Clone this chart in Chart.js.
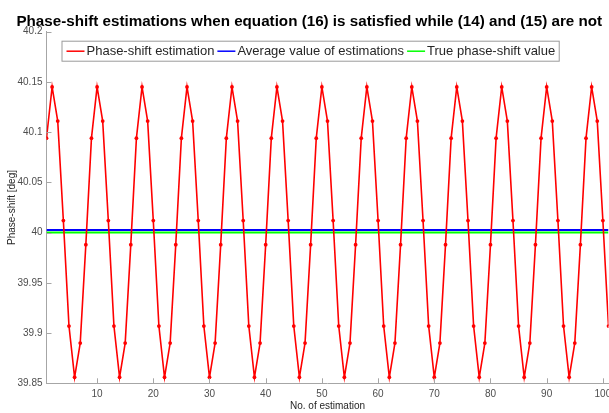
<!DOCTYPE html>
<html>
<head>
<meta charset="utf-8">
<script src="https://cdn.jsdelivr.net/npm/chart.js@4.4.1/dist/chart.umd.min.js"></script>
<style>
  html, body { margin: 0; padding: 0; background: #fff; }
</style>
</head>
<body>
<canvas id="phase-shift" width="609" height="413"></canvas>
<script>
// estimation values, one per estimation number 1..101
const estimations = [
  40.094, 40.145, 40.111, 40.012, 39.907, 39.856, 39.890, 39.988,
  40.094, 40.145, 40.111, 40.012, 39.907, 39.856, 39.890, 39.988,
  40.094, 40.145, 40.111, 40.012, 39.907, 39.856, 39.890, 39.988,
  40.094, 40.145, 40.111, 40.012, 39.907, 39.856, 39.890, 39.988,
  40.094, 40.145, 40.111, 40.012, 39.907, 39.856, 39.890, 39.988,
  40.094, 40.145, 40.111, 40.012, 39.907, 39.856, 39.890, 39.988,
  40.094, 40.145, 40.111, 40.012, 39.907, 39.856, 39.890, 39.988,
  40.094, 40.145, 40.111, 40.012, 39.907, 39.856, 39.890, 39.988,
  40.094, 40.145, 40.111, 40.012, 39.907, 39.856, 39.890, 39.988,
  40.094, 40.145, 40.111, 40.012, 39.907, 39.856, 39.890, 39.988,
  40.094, 40.145, 40.111, 40.012, 39.907, 39.856, 39.890, 39.988,
  40.094, 40.145, 40.111, 40.012, 39.907, 39.856, 39.890, 39.988,
  40.094, 40.145, 40.111, 40.012, 39.907
];
const averageValue = 40.0027;
const trueValue = 40;
const xRange = [1, 101];
const xTicks = [10, 20, 30, 40, 50, 60, 70, 80, 90, 100];
const yTicks = [39.85, 39.9, 39.95, 40, 40.05, 40.1, 40.15, 40.2];
const yTickLabels = ['39.85', '39.9', '39.95', '40', '40.05', '40.1', '40.15', '40.2'];
const seriesNames = ['Phase-shift estimation', 'Average value of estimations', 'True phase-shift value'];
const seriesColors = ['#ff0000', '#0000ff', '#00ff00'];

const FONT = '"Liberation Sans", Arial, Helvetica, sans-serif';
const AXIS_GREY = '#a6a6a6';
const LABEL_GREY = '#4d4d4d';

const estPoints = estimations.map((v, i) => ({ x: xRange[0] + i, y: v }));
const flat = (v) => xRange.map(x => ({ x: x, y: v }));

// MATLAB style ticks pointing into the axes
const inwardTicks = {
  id: 'inwardTicks',
  afterDraw(chart) {
    const { ctx, chartArea, scales } = chart;
    ctx.save();
    ctx.strokeStyle = AXIS_GREY;
    ctx.lineWidth = 1;
    ctx.beginPath();
    xTicks.forEach(v => {
      const px = Math.round(scales.x.getPixelForValue(v)) + 0.5;
      ctx.moveTo(px, chartArea.bottom);
      ctx.lineTo(px, chartArea.bottom - 5);
    });
    yTicks.forEach(v => {
      const py = Math.round(scales.y.getPixelForValue(v)) + 0.5;
      ctx.moveTo(chartArea.left, py);
      ctx.lineTo(chartArea.left + 5, py);
    });
    ctx.stroke();
    ctx.restore();
  }
};

// boxed legend sitting inside the axes, one row
const boxLegend = {
  id: 'boxLegend',
  afterDraw(chart) {
    const { ctx, chartArea } = chart;
    const left = chartArea.left + 15.5;
    const top = chartArea.top + 9.5;
    const h = 20;
    const lineLen = 18;
    ctx.save();
    ctx.font = '13px ' + FONT;
    ctx.textBaseline = 'middle';
    let x = left + 4.5;
    const items = seriesNames.map((name, i) => {
      const it = { name, color: seriesColors[i], x };
      x += lineLen + 2 + ctx.measureText(name).width + 3;
      return it;
    });
    const right = x + 1;
    ctx.fillStyle = '#fff';
    ctx.fillRect(left, top, right - left, h);
    ctx.strokeStyle = '#9a9a9a';
    ctx.lineWidth = 1;
    ctx.strokeRect(left, top, right - left, h);
    const cy = top + h / 2;
    items.forEach(it => {
      ctx.strokeStyle = it.color;
      ctx.lineWidth = 1.5;
      ctx.beginPath();
      ctx.moveTo(it.x, cy);
      ctx.lineTo(it.x + lineLen, cy);
      ctx.stroke();
      ctx.fillStyle = '#262626';
      ctx.fillText(it.name, it.x + lineLen + 2, cy + 0.5);
    });
    ctx.restore();
  }
};

new Chart(document.getElementById('phase-shift'), {
  type: 'line',
  data: {
    datasets: [
      {
        label: seriesNames[0],
        data: estPoints,
        borderColor: seriesColors[0],
        backgroundColor: seriesColors[0],
        borderWidth: 1.6,
        pointRadius: 1.9,
        pointBorderWidth: 0,
        tension: 0
      },
      {
        label: seriesNames[1],
        data: flat(averageValue),
        borderColor: seriesColors[1],
        borderWidth: 2,
        pointRadius: 0
      },
      {
        label: seriesNames[2],
        data: flat(trueValue),
        borderColor: seriesColors[2],
        borderWidth: 2,
        pointRadius: 0
      }
    ]
  },
  options: {
    responsive: false,
    animation: false,
    layout: { autoPadding: false, padding: { left: 10, top: 0, bottom: 0, right: 0.5 } },
    plugins: {
      legend: { display: false },
      tooltip: { enabled: false },
      title: {
        display: true,
        text: 'Phase-shift estimations when equation (16) is satisfied while (14) and (15) are not',
        color: '#000',
        font: { family: FONT, size: 15.2, weight: 'bold', lineHeight: 1 },
        padding: { top: 14.6, bottom: 1.9 }
      }
    },
    scales: {
      x: {
        type: 'linear',
        min: xRange[0],
        max: xRange[1],
        afterBuildTicks: s => { s.ticks = xTicks.map(v => ({ value: v })); },
        afterFit: s => { s.height = 29.7; s.paddingLeft = 0; s.paddingRight = 0; },
        grid: { display: false, drawTicks: false },
        border: { display: true, color: AXIS_GREY, width: 1 },
        ticks: {
          color: LABEL_GREY,
          font: { family: FONT, size: 10 },
          padding: 5,
          maxRotation: 0,
          autoSkip: false,
          callback: v => String(v)
        },
        title: {
          display: true,
          text: 'No. of estimation',
          color: '#262626',
          font: { family: FONT, size: 10 },
          padding: { top: 0, bottom: 1 }
        }
      },
      y: {
        min: yTicks[0],
        max: yTicks[yTicks.length - 1],
        afterBuildTicks: s => { s.ticks = yTicks.map(v => ({ value: v })); },
        afterFit: s => { s.width = 36.5; s.paddingTop = 0; s.paddingBottom = 0; },
        grid: { display: false, drawTicks: false },
        border: { display: true, color: AXIS_GREY, width: 1 },
        ticks: {
          color: LABEL_GREY,
          font: { family: FONT, size: 10 },
          padding: 4,
          autoSkip: false,
          callback: v => yTickLabels[yTicks.indexOf(v)] ?? ''
        },
        title: {
          display: true,
          text: 'Phase-shift [deg]',
          color: '#262626',
          font: { family: FONT, size: 10 },
          padding: { top: -3.5, bottom: 0 }
        }
      }
    }
  },
  plugins: [inwardTicks, boxLegend]
});
</script>
</body>
</html>
